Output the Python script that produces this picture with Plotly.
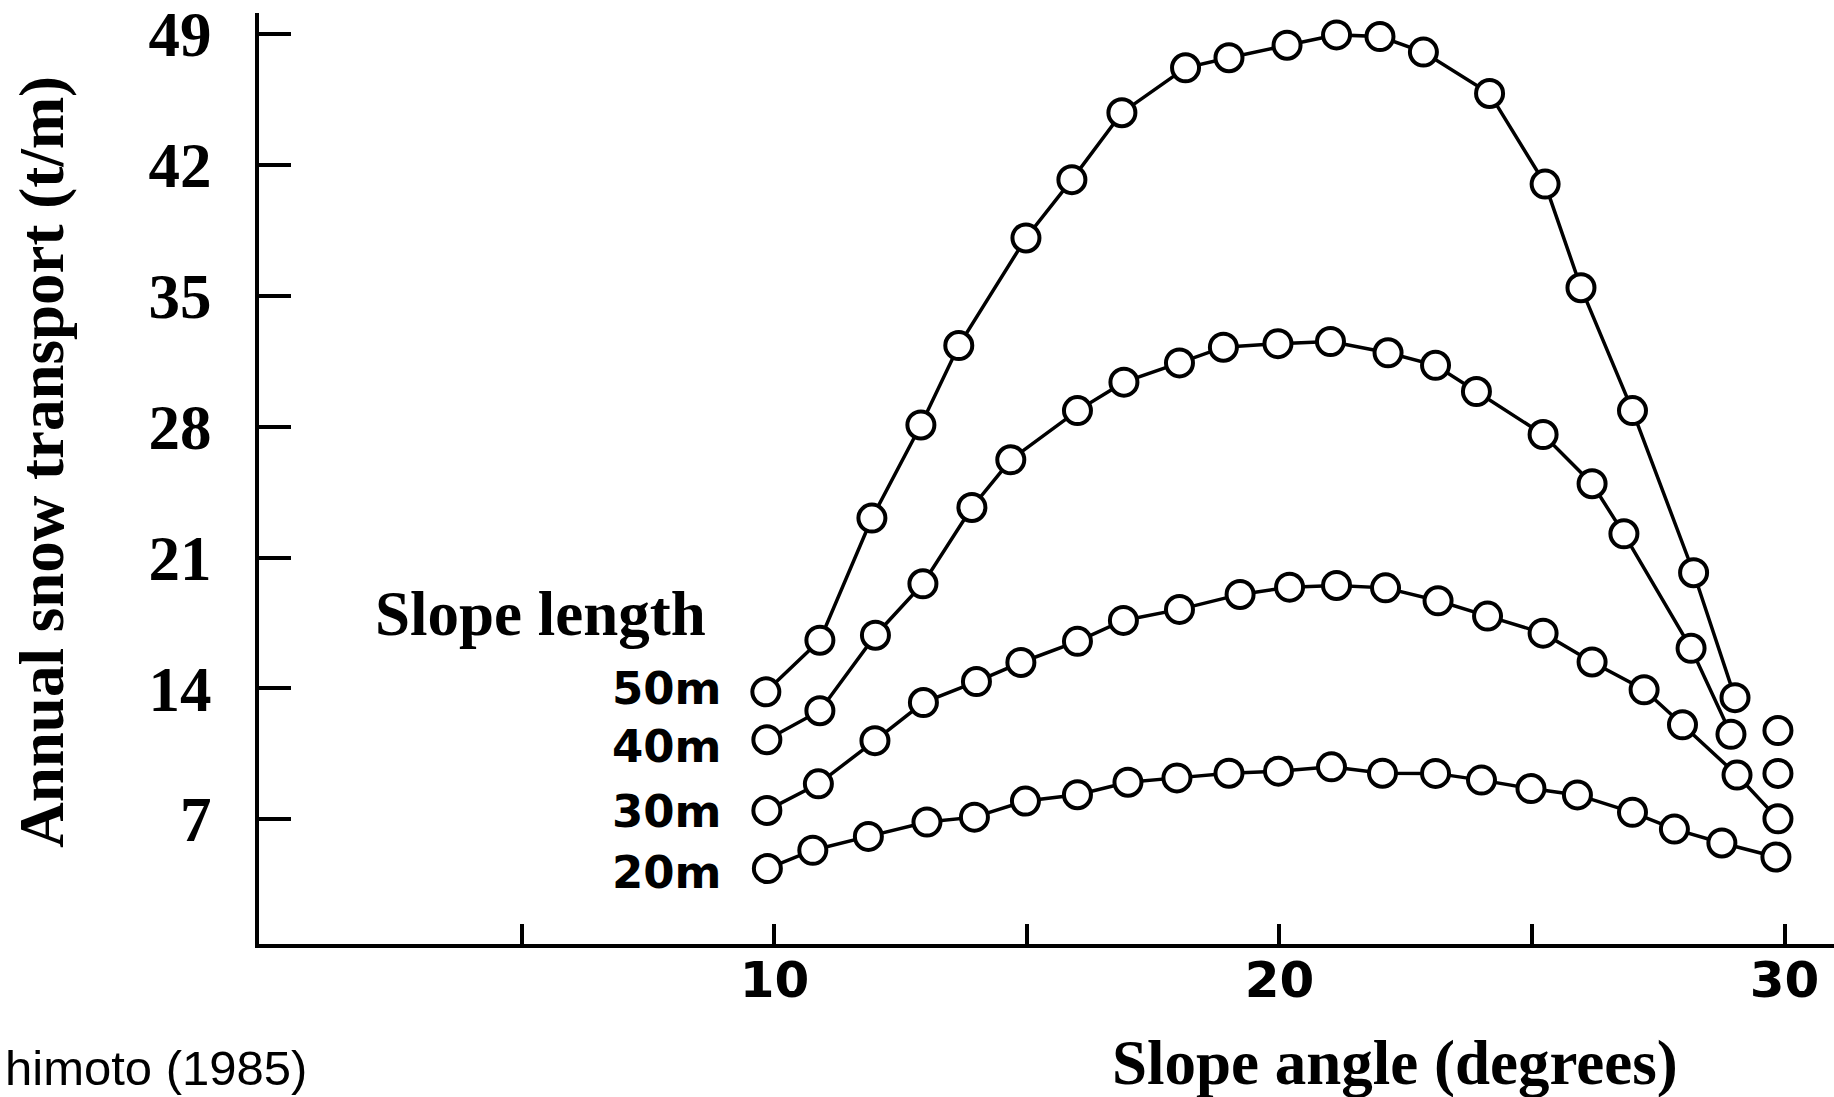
import plotly.graph_objects as go

# ---------------- data ----------------
angle_50 = [9.83, 10.90, 11.93, 12.90, 13.65, 14.98, 15.89, 16.88, 18.14, 19.00,
            20.15, 21.13, 21.99, 22.85, 24.16, 25.26, 25.97, 26.99, 28.20, 29.02]
snow_50 = [13.82, 16.58, 23.11, 28.09, 32.34, 38.09, 41.21, 44.79, 47.19, 47.73,
           48.40, 48.95, 48.86, 48.03, 45.82, 40.97, 35.43, 28.86, 20.19, 13.51]
angle_50_extra = [29.87]
snow_50_extra = [11.75]

angle_40 = [9.85, 10.90, 12.00, 12.94, 13.91, 14.68, 16.00, 16.92, 18.02, 18.89,
            19.97, 21.01, 22.15, 23.09, 23.90, 25.22, 26.19, 26.82, 28.15, 28.94]
snow_40 = [11.26, 12.81, 16.85, 19.60, 23.68, 26.23, 28.86, 30.38, 31.41, 32.25,
           32.44, 32.55, 31.95, 31.28, 29.88, 27.58, 24.95, 22.27, 16.15, 11.55]
angle_40_extra = [29.87]
snow_40_extra = [9.46]

angle_30 = [9.85, 10.87, 11.99, 12.95, 14.00, 14.88, 16.00, 16.91, 18.02, 19.22,
            20.20, 21.13, 22.10, 23.14, 24.12, 25.22, 26.19, 27.22, 27.98, 29.06, 29.87]
snow_30 = [7.48, 8.90, 11.21, 13.25, 14.37, 15.39, 16.52, 17.64, 18.23, 19.03,
           19.42, 19.51, 19.38, 18.69, 17.87, 16.96, 15.42, 13.93, 12.06, 9.37, 7.03]

angle_20 = [9.86, 10.76, 11.86, 13.02, 13.96, 14.97, 16.00, 17.00, 17.97, 19.00,
            19.98, 21.03, 22.04, 23.09, 24.00, 24.98, 25.90, 26.99, 27.82, 28.76, 29.83]
snow_20 = [4.37, 5.35, 6.09, 6.86, 7.12, 7.98, 8.32, 8.99, 9.22, 9.47,
           9.58, 9.81, 9.47, 9.46, 9.10, 8.65, 8.31, 7.38, 6.48, 5.74, 4.99]

length_labels = ["50m", "40m", "30m", "20m"]

x_tickvals = [5, 10, 15, 20, 25, 30]
x_ticktext = ["", "10", "", "20", "", "30"]
y_tickvals = [7, 14, 21, 28, 35, 42, 49]

# ---------------- figure ----------------
SERIF = "Liberation Serif"
SANS = "DejaVu Sans"

line_style = dict(color="black", width=3.5)
marker_style = dict(size=27, color="white", line=dict(color="black", width=4))

fig = go.Figure()
series = [(angle_50, snow_50), (angle_40, snow_40), (angle_30, snow_30), (angle_20, snow_20)]
for xs, ys in series:
    fig.add_trace(go.Scatter(x=xs, y=ys, mode="lines+markers", line=line_style,
                             marker=marker_style, showlegend=False, cliponaxis=False))
for xs, ys in [(angle_50_extra, snow_50_extra), (angle_40_extra, snow_40_extra)]:
    fig.add_trace(go.Scatter(x=xs, y=ys, mode="markers", marker=marker_style,
                             showlegend=False, cliponaxis=False))

# label placement (layout only): vertical positions in data units
label_y = [13.98, 10.89, 7.40, 4.15]
annotations = []
for label, ly in zip(length_labels, label_y):
    annotations.append(dict(x=9.0, y=ly, xref="x", yref="y", text=label,
                            xanchor="right", yanchor="middle", showarrow=False,
                            font=dict(family=SANS, size=45, color="black", weight="bold")))

annotations += [
    dict(x=0.179, y=0.3546, xref="paper", yref="paper", text="Slope length",
         xanchor="center", yanchor="middle", showarrow=False,
         font=dict(family=SERIF, size=63, color="black", weight="bold")),
    dict(x=0.7214, y=-0.1274, xref="paper", yref="paper", text="Slope angle (degrees)",
         xanchor="center", yanchor="middle", showarrow=False,
         font=dict(family=SERIF, size=63, color="black", weight="bold")),
    dict(x=-0.1378, y=0.518, xref="paper", yref="paper", text="Annual snow transport (t/m)",
         textangle=-90, xanchor="center", yanchor="middle", showarrow=False,
         font=dict(family=SERIF, size=63, color="black", weight="bold")),
    dict(x=0.0317, y=-0.1333, xref="paper", yref="paper", text="himoto (1985)",
         xanchor="right", yanchor="middle", showarrow=False,
         font=dict(family="Liberation Sans", size=49, color="black")),
]

fig.update_layout(
    width=1834, height=1097,
    margin=dict(l=259, r=0, t=10, b=153),
    paper_bgcolor="white", plot_bgcolor="white",
    annotations=annotations,
    xaxis=dict(range=[-0.206, 30.98], showline=True, linecolor="black", linewidth=4,
               ticks="inside", ticklen=20, tickwidth=4, tickcolor="black",
               tickvals=x_tickvals, ticktext=x_ticktext, ticklabelstandoff=-11,
               ticklabeloverflow="allow",
               tickfont=dict(family=SANS, size=50, color="black", weight="bold"),
               showgrid=False, zeroline=False),
    yaxis=dict(range=[0.337, 50.12], showline=True, linecolor="black", linewidth=4,
               ticks="inside", ticklen=32, tickwidth=4, tickcolor="black",
               tickvals=y_tickvals, ticklabelstandoff=31, ticklabeloverflow="allow",
               tickfont=dict(family=SERIF, size=63, color="black", weight="bold"),
               showgrid=False, zeroline=False),
)

fig.write_html("out.html")
